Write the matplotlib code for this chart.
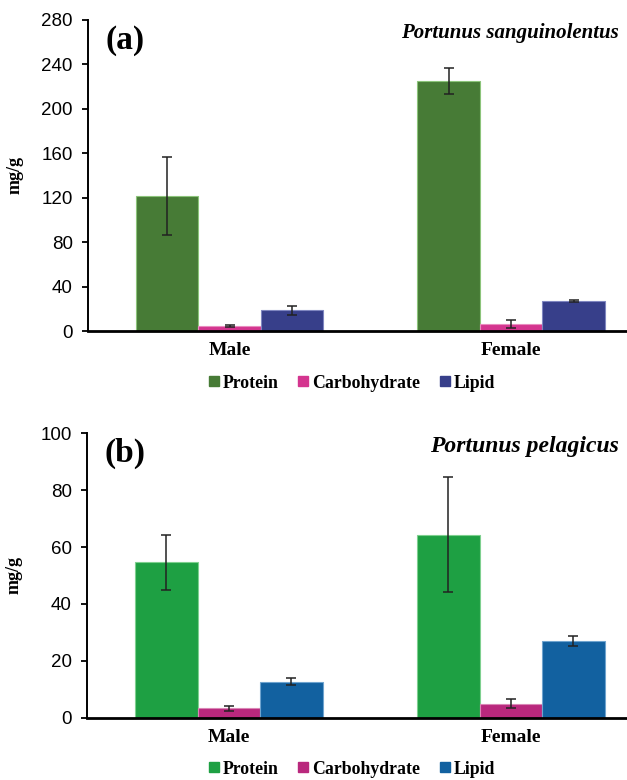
import matplotlib
matplotlib.use("Agg")
import matplotlib.pyplot as plt
from matplotlib.lines import Line2D
import numpy as np

groups = ["Male", "Female"]
nutrients = ["Protein", "Carbohydrate", "Lipid"]

# (a) Portunus sanguinolentus
a_mean = {"Protein": [121.5, 225.0], "Carbohydrate": [4.5, 6.0], "Lipid": [18.7, 26.8]}
a_err = {"Protein": [35.0, 12.0], "Carbohydrate": [0.8, 3.6], "Lipid": [4.0, 1.0]}
a_ticks = [0, 40, 80, 120, 160, 200, 240, 280]

# (b) Portunus pelagicus
b_mean = {"Protein": [54.6, 64.4], "Carbohydrate": [3.3, 4.9], "Lipid": [12.7, 27.0]}
b_err = {"Protein": [9.7, 20.1], "Carbohydrate": [0.8, 1.5], "Lipid": [1.3, 1.9]}
b_ticks = [0, 20, 40, 60, 80, 100]

a_colors = ["#477B36", "#D4358F", "#373F8A"]
b_colors = ["#1EA043", "#B9287D", "#1261A0"]
a_edges = ["#8CC47A", "#E98CBF", "#7F86C0"]
b_edges = ["#7ED08F", "#DA86B6", "#6FA4CF"]

W, H = 627, 780
fig = plt.figure(figsize=(W / 100, H / 100), dpi=100)

serif = "Liberation Serif"
sans = "Liberation Sans"


def panel(rect, means, errs, ticks, colors, edges, tag, species, sp_size, leg_y):
    ax = fig.add_axes(rect)
    x = np.arange(len(groups))
    w = 0.222
    for i, n in enumerate(nutrients):
        ax.bar(x + (i - 1) * w, means[n], w, color=colors[i], edgecolor=edges[i],
               linewidth=0.8, yerr=errs[n], capsize=3.3,
               error_kw=dict(ecolor="#222222", elinewidth=1.1, capthick=1.1))
    ax.set_xlim(-0.503, 1.412)
    ax.set_ylim(ticks[0], ticks[-1])
    ax.set_yticks(ticks)
    ax.set_yticklabels([str(t) for t in ticks], fontfamily=sans, fontsize=13.5)
    ax.set_xticks(x)
    ax.set_xticklabels(groups, fontfamily=serif, fontweight="bold", fontsize=14)
    ax.tick_params(axis="x", length=0, pad=8)
    ax.tick_params(axis="y", length=4, width=1.3, pad=7)
    for s in ["top", "right"]:
        ax.spines[s].set_visible(False)
    ax.spines["bottom"].set_linewidth(2.0)
    ax.spines["left"].set_linewidth(1.4)
    ax.set_ylabel("mg/g", fontfamily=serif, fontweight="bold", fontsize=13)
    ax.yaxis.set_label_coords(-64 / 539, 0.5)
    ax.text(0.033, 0.985, tag, transform=ax.transAxes, fontfamily=serif,
            fontweight="bold", fontsize=24, va="top", ha="left")
    ax.text(0.985, 0.99, species, transform=ax.transAxes, fontfamily=serif,
            fontweight="bold", fontstyle="italic", fontsize=sp_size, va="top", ha="right")
    handles = [Line2D([], [], marker="s", linestyle="none", markersize=7,
                      markerfacecolor=c, markeredgecolor=c) for c in colors]
    ax.legend(handles, nutrients, loc="center", bbox_to_anchor=(350 / W, leg_y),
              bbox_transform=fig.transFigure, ncol=3, frameon=False,
              handletextpad=0.0, columnspacing=0.9, handlelength=1.0,
              prop=dict(family=serif, weight="bold", size=12.8))
    return ax


panel([88 / W, 1 - 331 / H, 539 / W, (331 - 20) / H], a_mean, a_err, a_ticks,
      a_colors, a_edges, "(a)", "Portunus sanguinolentus", 15, 1 - 383 / H)
panel([87 / W, 1 - 717.7 / H, 540 / W, (717.7 - 433.3) / H], b_mean, b_err, b_ticks,
      b_colors, b_edges, "(b)", "Portunus pelagicus", 17, 1 - 769 / H)

fig.savefig("out.png", dpi=100)
